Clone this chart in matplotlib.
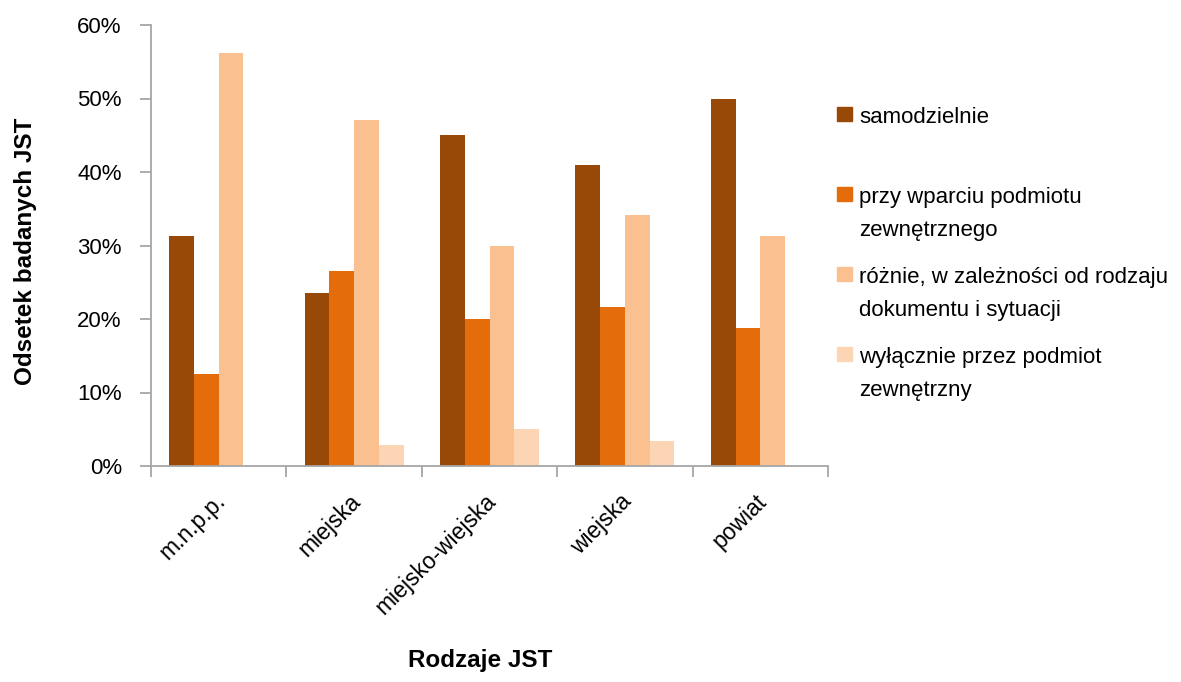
import numpy as np
import matplotlib
matplotlib.use("Agg")
import matplotlib.pyplot as plt
from matplotlib.patches import Rectangle
from matplotlib.ticker import FixedLocator, PercentFormatter
import matplotlib.transforms as mtransforms

plt.rcParams['font.family'] = ['Liberation Sans', 'DejaVu Sans']

# data
categories = ["m.n.p.p.", "miejska", "miejsko-wiejska", "wiejska", "powiat"]
series_names = [
    "samodzielnie",
    "przy wparciu podmiotu\nzewnętrznego",
    "różnie, w zależności od rodzaju\ndokumentu i sytuacji",
    "wyłącznie przez podmiot\nzewnętrzny",
]
samodzielnie = [31.25, 23.5, 45.0, 41.0, 50.0]
przy_wparciu = [12.5, 26.5, 20.0, 21.6, 18.75]
roznie = [56.25, 47.1, 30.0, 34.1, 31.25]
wylacznie = [0.0, 2.9, 5.0, 3.4, 0.0]
series_values = [samodzielnie, przy_wparciu, roznie, wylacznie]
colors = ["#984807", "#E46C0A", "#FAC090", "#FCD5B5"]

W, H = 1181, 682
fig = plt.figure(figsize=(W / 100, H / 100), dpi=100)
ax = fig.add_axes([151 / W, 1 - 466 / H, (828 - 151) / W, (466 - 25) / H])

x = np.arange(len(categories))
bw = 0.1826
for i, (vals, col) in enumerate(zip(series_values, colors)):
    ax.bar(x + (i - 1.5) * bw, vals, width=bw, color=col, edgecolor="none")

ax.set_xlim(-0.5, len(categories) - 0.5)
ax.set_ylim(0, 60)
ax.yaxis.set_major_locator(FixedLocator(np.arange(0, 61, 10)))
ax.yaxis.set_major_formatter(PercentFormatter(decimals=0))

# category boundaries get ticks, centres get the labels
ax.xaxis.set_major_locator(FixedLocator(np.arange(-0.5, len(categories), 1.0)))
ax.xaxis.set_minor_locator(FixedLocator(x))
ax.set_xticklabels([], minor=False)
ax.set_xticklabels(categories, minor=True, rotation=45, ha="right")

grey = "#A6A6A6"
for s in ["top", "right"]:
    ax.spines[s].set_visible(False)
for s in ["left", "bottom"]:
    ax.spines[s].set_color(grey)
    ax.spines[s].set_linewidth(1.3)
ax.tick_params(axis="y", which="major", length=8, width=1.3, color=grey,
               labelsize=16, pad=13)
ax.tick_params(axis="x", which="major", length=8, width=1.3, color=grey)
ax.tick_params(axis="x", which="minor", length=0, labelsize=16.5, pad=17)
shift = mtransforms.ScaledTranslation(11 / 100, 0, fig.dpi_scale_trans)
for lab in ax.get_xticklabels(minor=True):
    lab.set_transform(lab.get_transform() + shift)

fig.text(26 / W, 1 - 251 / H, "Odsetek badanych JST", rotation=90,
         ha="center", va="center", fontsize=17.5, fontweight="bold")
fig.text(480 / W, 1 - 660 / H, "Rodzaje JST", ha="center", va="center",
         fontsize=17.5, fontweight="bold")

# legend drawn by hand, Excel-like slots
for i, (name, col) in enumerate(zip(series_names, colors)):
    base = 123 + 80 * i
    fig.patches.append(Rectangle((837 / W, 1 - (base - 2) / H), 15 / W, 14 / H,
                                 transform=fig.transFigure, color=col))
    for j, line in enumerate(name.split("\n")):
        fig.text(859 / W, 1 - (base + 33 * j) / H, line, ha="left",
                 va="baseline", fontsize=16)

fig.savefig("out.png", dpi=100)
